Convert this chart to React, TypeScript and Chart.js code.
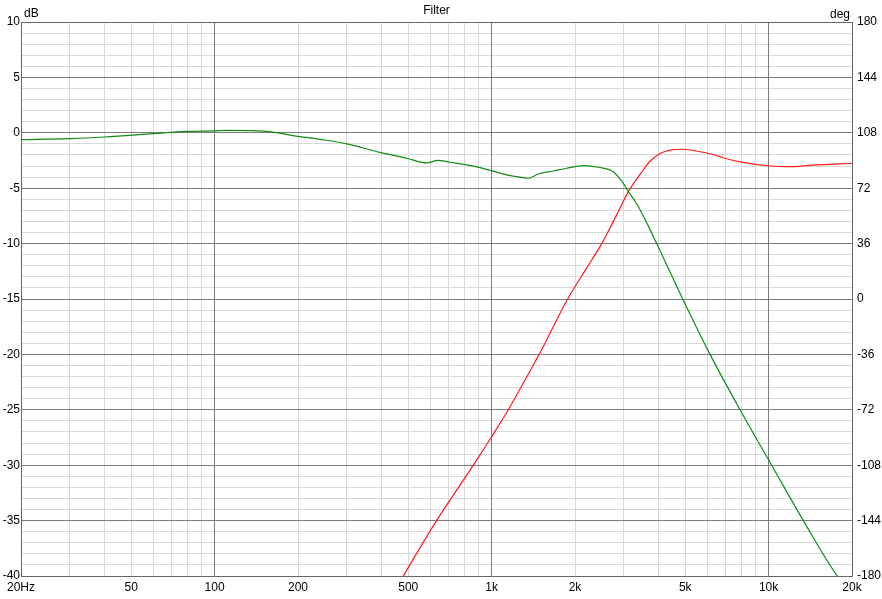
import React, { useEffect, useRef } from "react";
import { Chart, registerables } from "chart.js";
Chart.register(...registerables);

const magFreq = [20, 30, 40, 60, 79, 100, 110, 154, 200, 250, 300, 395, 467, 494, 583, 640, 708, 813, 908, 1000, 1133, 1232, 1357, 1474, 1670, 1866, 2143, 2430, 2750, 2989, 3116, 3340, 3678, 3944, 4896, 6144, 7885, 10258, 13344, 17700, 20000];
const magDb = [-0.62, -0.53, -0.38, -0.08, 0.12, 0.18, 0.22, 0.12, -0.32, -0.65, -1.0, -1.76, -2.15, -2.3, -2.72, -2.48, -2.66, -2.9, -3.15, -3.42, -3.8, -3.96, -4.1, -3.72, -3.45, -3.2, -2.97, -3.11, -3.51, -4.56, -5.31, -6.4, -8.4, -10, -15, -20, -25, -30, -35, -40, -41.5];

const phFreq = [440, 480, 633, 859, 1000, 1149, 1320, 1500, 1726, 1882, 2200, 2498, 2660, 2900, 3116, 3530, 3732, 4054, 4406, 4920, 5654, 6400, 6843, 8082, 9952, 11740, 14460, 20000];
const phDeg = [-192, -180, -144, -108, -89.5, -72, -52.6, -34.5, -12.8, 0, 19.9, 36, 45.3, 58.7, 69.8, 84, 89.5, 94.5, 96.8, 97.3, 95.7, 93.6, 91.8, 88.8, 86.6, 86, 87, 88.2];

const xGrid = [20, 30, 40, 50, 60, 70, 80, 90, 100, 200, 300, 400, 500, 600, 700, 800, 900, 1000, 2000, 3000, 4000, 5000, 6000, 7000, 8000, 9000, 10000, 20000];
const xMajor = [100, 1000, 10000];
const xLabels: Record<number, string> = { 20: "20Hz", 50: "50", 100: "100", 200: "200", 500: "500", 1000: "1k", 2000: "2k", 5000: "5k", 10000: "10k", 20000: "20k" };
const dbTicks = Array.from({ length: 51 }, (_, i) => -40 + i);
const degTicks = [-180, -144, -108, -72, -36, 0, 36, 72, 108, 144, 180];

const DARK = "#7c7c7c";
const LIGHT = "#d9d9d9";
const BORDER = "#666666";
const FONT = { family: "'Liberation Sans', Arial, sans-serif", size: 12 };

export default function App() {
  const ref = useRef<HTMLCanvasElement | null>(null);
  useEffect(() => {
    document.body.style.margin = "0";
    const gridPlugin = {
      id: "customGrid",
      beforeDatasetsDraw(chart: any) {
        const c = chart.ctx;
        const a = chart.chartArea;
        const xs = chart.scales.x;
        const ys = chart.scales.y;
        const px = (v: number) => Math.floor(xs.getPixelForValue(v)) + 0.5;
        const py = (v: number) => Math.floor(ys.getPixelForValue(v)) + 0.5;
        c.save();
        c.lineWidth = 1;
        const line = (x1: number, y1: number, x2: number, y2: number) => {
          c.beginPath();
          c.moveTo(x1, y1);
          c.lineTo(x2, y2);
          c.stroke();
        };
        c.strokeStyle = LIGHT;
        xGrid.filter((v) => !xMajor.includes(v)).forEach((v) => line(px(v), a.top, px(v), a.bottom));
        dbTicks.filter((v) => v % 5 !== 0).forEach((v) => line(a.left, py(v), a.right, py(v)));
        c.strokeStyle = DARK;
        xMajor.forEach((v) => line(px(v), a.top, px(v), a.bottom));
        dbTicks.filter((v) => v % 5 === 0).forEach((v) => line(a.left, py(v), a.right, py(v)));
        c.strokeStyle = BORDER;
        const l = Math.floor(a.left) + 0.5, r = Math.floor(a.right) + 0.5;
        const t = Math.floor(a.top) + 0.5, b = Math.floor(a.bottom) + 0.5;
        c.strokeRect(l, t, r - l, b - t);
        c.restore();
      },
      afterDraw(chart: any) {
        const c = chart.ctx;
        const a = chart.chartArea;
        c.save();
        c.fillStyle = "#000";
        c.font = "12px 'Liberation Sans', Arial, sans-serif";
        c.textBaseline = "middle";
        c.textAlign = "center";
        c.fillText("Filter", (a.left + a.right) / 2, 11);
        c.textAlign = "left";
        c.fillText("dB", a.left + 3, 14);
        c.textAlign = "right";
        c.fillText("deg", a.right - 2, 15);
        c.restore();
      },
    };
    const chart = new Chart(ref.current!, {
      type: "line",
      data: {
        datasets: [
          {
            label: "Magnitude",
            data: magFreq.map((f, i) => ({ x: f, y: magDb[i] })),
            borderColor: "#108c10",
            borderWidth: 1.2,
            pointRadius: 0,
            cubicInterpolationMode: "monotone",
            yAxisID: "y",
          },
          {
            label: "Phase",
            data: phFreq.map((f, i) => ({ x: f, y: phDeg[i] })),
            borderColor: "#ff1a1a",
            borderWidth: 1.2,
            pointRadius: 0,
            cubicInterpolationMode: "monotone",
            yAxisID: "y2",
          },
        ],
      },
      options: {
        animation: false,
        responsive: true,
        maintainAspectRatio: false,
        layout: { padding: { top: 22, left: 0, right: 0, bottom: 0 } },
        plugins: { legend: { display: false }, tooltip: { enabled: false }, title: { display: false } },
        scales: {
          x: {
            type: "logarithmic",
            min: 20,
            max: 20000,
            afterBuildTicks: (s: any) => { s.ticks = xGrid.map((v) => ({ value: v })); },
            afterFit: (s: any) => { s.height = 23; },
            grid: { display: false, drawTicks: false },
            border: { display: false },
            ticks: {
              autoSkip: false,
              maxRotation: 0,
              padding: 4,
              color: "#000",
              font: FONT,
              callback: (v: any) => xLabels[Number(v)] ?? "",
            },
          },
          y: {
            type: "linear",
            position: "left",
            min: -40,
            max: 10,
            afterBuildTicks: (s: any) => { s.ticks = dbTicks.map((v) => ({ value: v })); },
            afterFit: (s: any) => { s.width = 21; },
            grid: { display: false, drawTicks: false },
            border: { display: false },
            ticks: {
              autoSkip: false,
              padding: 1,
              color: "#000",
              font: FONT,
              callback: (v: any) => (Number(v) % 5 === 0 ? String(v) : ""),
            },
          },
          y2: {
            type: "linear",
            position: "right",
            min: -180,
            max: 180,
            afterBuildTicks: (s: any) => { s.ticks = degTicks.map((v) => ({ value: v })); },
            afterFit: (s: any) => { s.width = 30; },
            grid: { display: false, drawTicks: false },
            border: { display: false },
            ticks: {
              autoSkip: false,
              padding: 5,
              color: "#000",
              font: FONT,
              callback: (v: any) => String(v),
            },
          },
        },
      },
      plugins: [gridPlugin],
    });
    return () => chart.destroy();
  }, []);
  return (
    <div style={{ position: "absolute", left: 0, top: 0, width: 882, height: 599 }}>
      <canvas ref={ref} />
    </div>
  );
}
